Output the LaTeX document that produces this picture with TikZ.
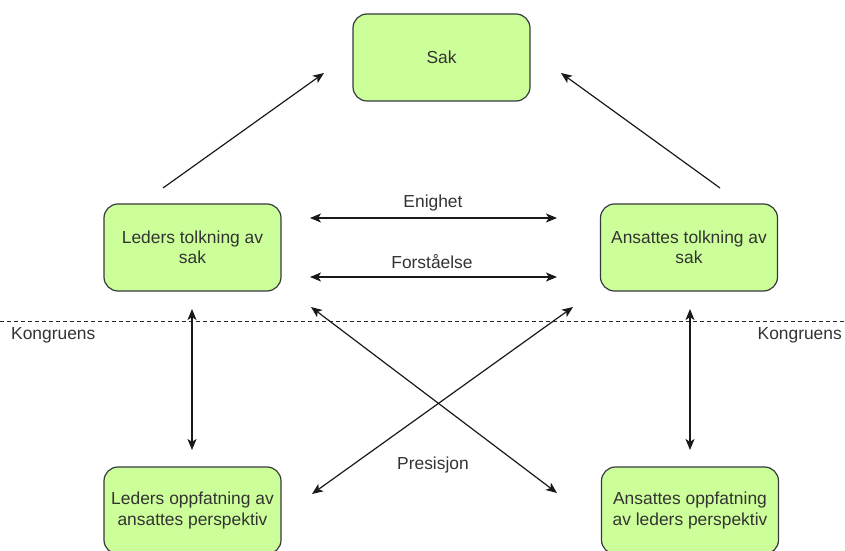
\documentclass[tikz,border=0pt]{standalone}
\usepackage{fontspec}
\setmainfont{Liberation Sans}
\usetikzlibrary{arrows.meta}
\definecolor{boxfill}{HTML}{CCFF99}
\definecolor{boxline}{HTML}{36393D}
\definecolor{txt}{HTML}{333333}
\begin{document}
\begin{tikzpicture}[x=1bp,y=-1bp,
  box/.style={draw=boxline, line width=1.2bp, fill=boxfill, rounded corners=14bp,
    minimum width=177bp, minimum height=87bp, inner sep=0pt, align=center,
    text=txt, font=\fontsize{17.4bp}{20.5bp}\selectfont},
  lbl/.style={text=txt, inner sep=0pt, font=\fontsize{17.4bp}{20.5bp}\selectfont},
  tip/.style={Stealth[length=11bp,width=9bp,inset=2.8bp]},
  conn/.style={draw=black!90, line width=1.2bp, -{Stealth[length=11bp,width=9bp,inset=2.8bp]}},
  biconn/.style={draw=black!90, line width=1.2bp,
    {Stealth[length=11bp,width=9bp,inset=2.8bp]}-{Stealth[length=11bp,width=9bp,inset=2.8bp]}}]
\useasboundingbox (0,0) rectangle (845,551);

% boxes
\node[box] (sak) at (441.5,57.5) {Sak};
\node[box] (lt) at (192.5,247.5) {Leders tolkning av\\sak};
\node[box] (at) at (689,247.5) {Ansattes tolkning av\\sak};
\node[box] (lo) at (192.5,510.5) {Leders oppfatning av\\ansattes perspektiv};
\node[box] (ao) at (690,510.5) {Ansattes oppfatning\\av leders perspektiv};

% dashed separation line with labels
\coordinate (dl) at (0,321);
\coordinate (dr) at (845,321);
\draw[black!85, line width=1bp, dash pattern=on 4bp off 3bp] (dl) -- (dr);
\node[lbl, anchor=west] (kl) at (11,335) {Kongruens};
\node[lbl, anchor=east] (kr) at (842,335) {Kongruens};

% connector end points
\coordinate (lt1) at (163,188);  \coordinate (sak1) at (324,73);
\coordinate (at1) at (720,188);  \coordinate (sak2) at (561,73);
\coordinate (e1) at (310,218);   \coordinate (e2) at (557,218);
\coordinate (f1) at (310,277);   \coordinate (f2) at (557,277);
\coordinate (vl1) at (192,309);  \coordinate (vl2) at (192,450);
\coordinate (vr1) at (690,309);  \coordinate (vr2) at (690,450);
\coordinate (d1a) at (311,307);  \coordinate (d1b) at (557,493);
\coordinate (d2a) at (573,307);  \coordinate (d2b) at (312,494);

% connectors
\draw[conn] (lt1) -- (sak1);
\draw[conn] (at1) -- (sak2);
\draw[biconn] (e1) -- (e2);
\draw[biconn] (f1) -- (f2);
\draw[biconn] (vl1) -- (vl2);
\draw[biconn] (vr1) -- (vr2);
\draw[biconn] (d1a) -- (d1b);
\draw[biconn] (d2a) -- (d2b);

% connector labels
\node[lbl] (enighet) at (433,203) {Enighet};
\node[lbl] (forst) at (432,262) {Forståelse};
\node[lbl] (pres) at (433,465) {Presisjon};
\end{tikzpicture}
\end{document}
